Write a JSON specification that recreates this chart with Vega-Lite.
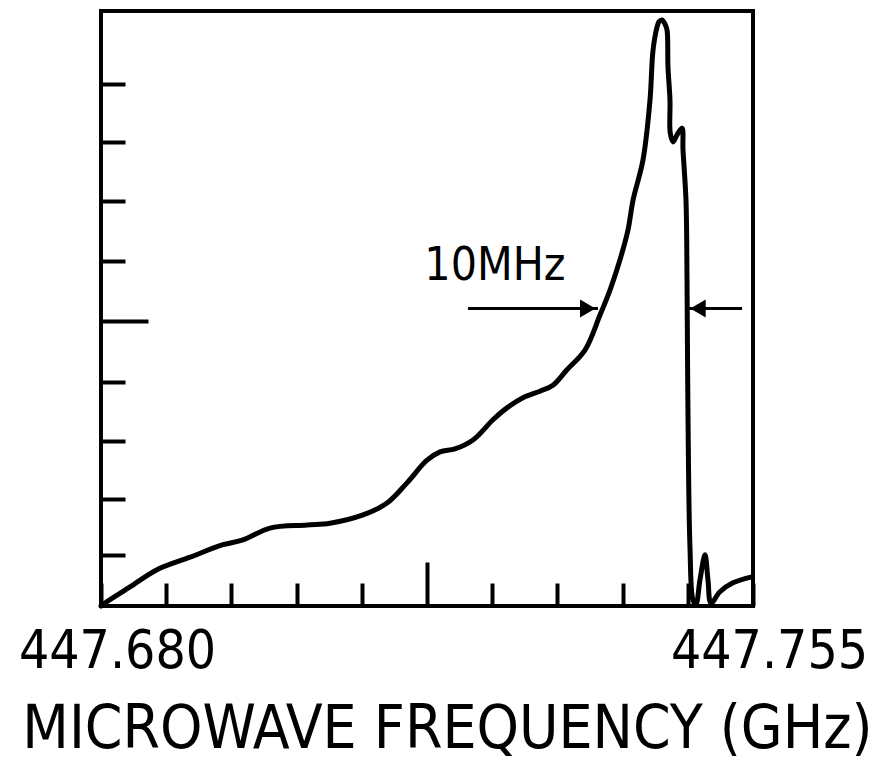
{
  "$schema": "https://vega.github.io/schema/vega-lite/v6.json",
  "width": 652,
  "height": 595,
  "autosize": {"type": "none"},
  "padding": {"left": 101, "top": 11, "right": 140, "bottom": 156},
  "background": "white",
  "config": {
    "view": {"stroke": "black", "strokeWidth": 4},
    "font": "DejaVu Sans Condensed"
  },
  "datasets": {
    "curve": [
      {"i": 0, "f": 447.68000, "s": 0.00},
      {"i": 1, "f": 447.68046, "s": 0.05},
      {"i": 2, "f": 447.68334, "s": 0.32},
      {"i": 3, "f": 447.68644, "s": 0.61},
      {"i": 4, "f": 447.69024, "s": 0.82},
      {"i": 5, "f": 447.69403, "s": 1.03},
      {"i": 6, "f": 447.69633, "s": 1.11},
      {"i": 7, "f": 447.69944, "s": 1.31},
      {"i": 8, "f": 447.70370, "s": 1.36},
      {"i": 9, "f": 447.70634, "s": 1.39},
      {"i": 10, "f": 447.71014, "s": 1.53},
      {"i": 11, "f": 447.71290, "s": 1.73},
      {"i": 12, "f": 447.71520, "s": 2.07},
      {"i": 13, "f": 447.71750, "s": 2.45},
      {"i": 14, "f": 447.71900, "s": 2.59},
      {"i": 15, "f": 447.72072, "s": 2.64},
      {"i": 16, "f": 447.72279, "s": 2.79},
      {"i": 17, "f": 447.72509, "s": 3.13},
      {"i": 18, "f": 447.72670, "s": 3.33},
      {"i": 19, "f": 447.72854, "s": 3.50},
      {"i": 20, "f": 447.73050, "s": 3.61},
      {"i": 21, "f": 447.73199, "s": 3.71},
      {"i": 22, "f": 447.73360, "s": 3.97},
      {"i": 23, "f": 447.73567, "s": 4.30},
      {"i": 24, "f": 447.73740, "s": 4.89},
      {"i": 25, "f": 447.73855, "s": 5.31},
      {"i": 26, "f": 447.73970, "s": 5.82},
      {"i": 27, "f": 447.74062, "s": 6.32},
      {"i": 28, "f": 447.74120, "s": 6.82},
      {"i": 29, "f": 447.74235, "s": 7.50},
      {"i": 30, "f": 447.74315, "s": 8.50},
      {"i": 31, "f": 447.74350, "s": 9.34},
      {"i": 32, "f": 447.74396, "s": 9.73},
      {"i": 33, "f": 447.74419, "s": 9.82},
      {"i": 34, "f": 447.74453, "s": 9.85},
      {"i": 35, "f": 447.74488, "s": 9.78},
      {"i": 36, "f": 447.74511, "s": 9.68},
      {"i": 37, "f": 447.74522, "s": 9.06},
      {"i": 38, "f": 447.74545, "s": 8.50},
      {"i": 39, "f": 447.74548, "s": 7.95},
      {"i": 40, "f": 447.74580, "s": 7.80},
      {"i": 41, "f": 447.74626, "s": 7.92},
      {"i": 42, "f": 447.74683, "s": 8.03},
      {"i": 43, "f": 447.74695, "s": 7.66},
      {"i": 44, "f": 447.74729, "s": 6.82},
      {"i": 45, "f": 447.74741, "s": 5.48},
      {"i": 46, "f": 447.74752, "s": 3.24},
      {"i": 47, "f": 447.74775, "s": 0.99},
      {"i": 48, "f": 447.74810, "s": 0.10},
      {"i": 49, "f": 447.74844, "s": 0.03},
      {"i": 50, "f": 447.74890, "s": 0.44},
      {"i": 51, "f": 447.74948, "s": 0.86},
      {"i": 52, "f": 447.74982, "s": 0.44},
      {"i": 53, "f": 447.75017, "s": 0.05},
      {"i": 54, "f": 447.75120, "s": 0.24},
      {"i": 55, "f": 447.75270, "s": 0.39},
      {"i": 56, "f": 447.75489, "s": 0.49}
    ],
    "arrows": [
      {"f": 447.72222, "f2": 447.73717, "s": 5.0},
      {"f": 447.74764, "f2": 447.75374, "s": 5.0}
    ],
    "heads": [
      {"f": 447.73599, "s": 5.0, "dir": "right"},
      {"f": 447.74867, "s": 5.0, "dir": "left"}
    ],
    "labels": [
      {"f": 447.72532, "s": 5.71, "text": "10MHz"}
    ]
  },
  "layer": [
    {
      "data": {"name": "curve"},
      "mark": {"type": "line", "color": "black", "strokeWidth": 5, "strokeJoin": "round", "strokeCap": "round", "interpolate": "catmull-rom"},
      "encoding": {
        "x": {
          "field": "f", "type": "quantitative",
          "scale": {"domain": [447.68, 447.755], "nice": false, "zero": false},
          "axis": {
            "values": [447.68, 447.6875, 447.695, 447.7025, 447.71, 447.7175, 447.725, 447.7325, 447.74, 447.7475, 447.755],
            "format": ".3f",
            "labelExpr": "(datum.value < 447.681 || datum.value > 447.754) ? datum.label : ''",
            "domain": false, "grid": false,
            "tickColor": "black", "tickWidth": 4,
            "tickSize": {"condition": {"test": "abs(datum.value - 447.7175) < 0.0001", "value": -44}, "value": -23},
            "labelFontSize": 53, "labelColor": "black", "labelFont": "DejaVu Sans Condensed", "labelLimit": 0,
            "labelFlush": false, "labelOverlap": false, "labelBound": false,
            "labelPadding": 42, "labelOffset": 16, "labelBaseline": "top",
            "title": "MICROWAVE FREQUENCY (GHz)",
            "titleFont": "DejaVu Sans Condensed", "titleFontSize": 60, "titleFontWeight": "normal", "titleLimit": 0,
            "titleColor": "black", "titleX": 346, "titleY": 141, "titleBaseline": "alphabetic", "titleAlign": "center"
          }
        },
        "y": {
          "field": "s", "type": "quantitative",
          "scale": {"domain": [0, 10], "nice": false, "zero": false},
          "axis": {
            "values": [0.86, 1.8, 2.78, 3.76, 4.79, 5.8, 6.8, 7.8, 8.78],
            "labels": false, "domain": false, "grid": false, "title": null,
            "tickColor": "black", "tickWidth": 4,
            "tickSize": {"condition": {"test": "abs(datum.value - 4.79) < 0.01", "value": -47}, "value": -24}
          }
        },
        "order": {"field": "i", "type": "quantitative"}
      }
    },
    {
      "data": {"name": "arrows"},
      "mark": {"type": "rule", "color": "black", "strokeWidth": 3},
      "encoding": {
        "x": {"field": "f", "type": "quantitative"},
        "x2": {"field": "f2"},
        "y": {"field": "s", "type": "quantitative"}
      }
    },
    {
      "data": {"name": "heads"},
      "mark": {"type": "point", "filled": true, "color": "black", "size": 320, "opacity": 1},
      "encoding": {
        "x": {"field": "f", "type": "quantitative"},
        "y": {"field": "s", "type": "quantitative"},
        "shape": {"field": "dir", "type": "nominal", "scale": {"domain": ["right", "left"], "range": ["triangle-right", "triangle-left"]}, "legend": null}
      }
    },
    {
      "data": {"name": "labels"},
      "mark": {"type": "text", "color": "black", "fontSize": 46, "font": "DejaVu Sans Condensed", "align": "center", "baseline": "middle"},
      "encoding": {
        "x": {"field": "f", "type": "quantitative"},
        "y": {"field": "s", "type": "quantitative"},
        "text": {"field": "text"}
      }
    }
  ]
}
